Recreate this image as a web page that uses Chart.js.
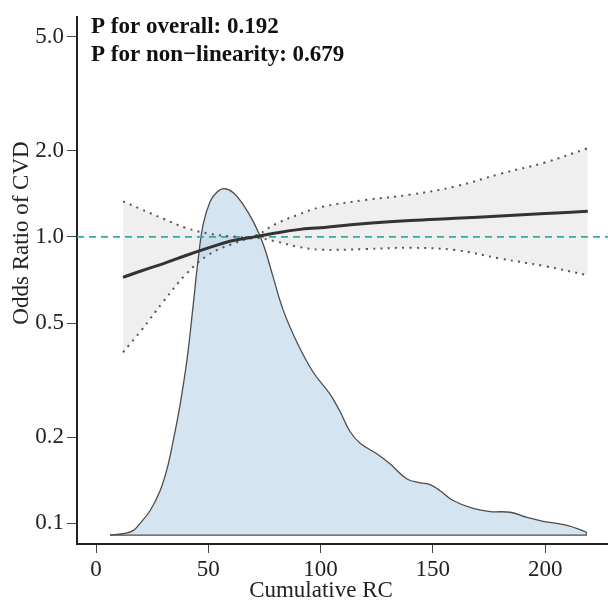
<!DOCTYPE html>
<html>
<head>
<meta charset="utf-8">
<script src="https://cdn.jsdelivr.net/npm/chart.js@4.4.0/dist/chart.umd.min.js"></script>
<style>
  html, body { margin: 0; padding: 0; background: #fff; }
</style>
</head>
<body>
<canvas id="chart" width="608" height="604"></canvas>
<script>
// Axis ranges and ticks
const xMin = -8.5;
const xMax = 228;
const xTicks = [0, 50, 100, 150, 200];
const yTicks = [0.1, 0.2, 0.5, 1.0, 2.0, 5.0];
const yMin = 0.0846;
const yMax = 5.87;

// Restricted cubic spline fit (odds ratio) with 95% CI
const fitX = [12, 20, 30, 40, 50, 60, 70, 80, 90, 100, 120, 140, 160, 180, 200, 219];
const fitOR = [0.722, 0.76, 0.807, 0.861, 0.915, 0.968, 0.998, 1.031, 1.06, 1.077, 1.114, 1.141, 1.161, 1.183, 1.206, 1.229];
const upperOR = [1.331, 1.25, 1.157, 1.075, 1.028, 1.005, 1.005, 1.11, 1.195, 1.27, 1.345, 1.405, 1.5, 1.66, 1.82, 2.04];
const lowerOR = [0.395, 0.47, 0.595, 0.74, 0.865, 0.94, 0.99, 0.964, 0.923, 0.902, 0.907, 0.916, 0.899, 0.84, 0.79, 0.734];

// Distribution of cumulative RC (relative density, peak = 1)
const densX = [6.2, 12.0, 16.5, 19.6, 24.1, 28.5, 31.6, 34.3, 37.4, 40.5, 43.2, 45.4, 47.7, 50.8, 53.9, 57.0, 61.0, 65.5, 69.9, 74.4, 78.8, 83.3, 89.5, 96.7, 104.2, 108.7, 113.1, 117.6, 125.2, 131.0, 138.5, 144.3, 148.8, 153.2, 159.0, 167.9, 175.5, 184.4, 192.0, 199.1, 209.8, 218.3];
const densY = [0, 0.004, 0.013, 0.034, 0.071, 0.128, 0.191, 0.271, 0.376, 0.507, 0.661, 0.792, 0.897, 0.963, 0.99, 1.0, 0.989, 0.954, 0.906, 0.840, 0.746, 0.650, 0.556, 0.470, 0.407, 0.356, 0.299, 0.265, 0.234, 0.205, 0.162, 0.151, 0.146, 0.128, 0.100, 0.077, 0.068, 0.066, 0.051, 0.040, 0.028, 0.009];

const SERIF = '"Liberation Serif", "DejaVu Serif", serif';

const pts = (xs, ys) => xs.map((x, i) => ({ x: x, y: ys[i] }));

// P-value annotation and axis titles
const chartText = {
    id: 'chartText',
    afterDraw(chart) {
        const { ctx, chartArea } = chart;
        ctx.save();
        ctx.fillStyle = '#111';
        ctx.textAlign = 'left';
        ctx.textBaseline = 'alphabetic';
        ctx.font = 'bold 23px ' + SERIF;
        ctx.fillText('P for overall: 0.192', chartArea.left + 14, 33);
        ctx.fillText('P for non\u2212linearity: 0.679', chartArea.left + 14, 61);

        ctx.fillStyle = '#222';
        ctx.font = '23px ' + SERIF;
        ctx.textAlign = 'center';
        ctx.fillText('Cumulative RC', 321, 597);

        ctx.translate(28, 233);
        ctx.rotate(-Math.PI / 2);
        ctx.fillText('Odds Ratio of CVD', 0, 0);
        ctx.restore();
    }
};

new Chart(document.getElementById('chart').getContext('2d'), {
    type: 'line',
    data: {
        datasets: [
            {
                // CI band lower edge (fill anchor)
                data: pts(fitX, lowerOR),
                borderWidth: 0,
                pointRadius: 0,
                fill: false,
                tension: 0.4,
                order: 6
            },
            {
                // CI band
                data: pts(fitX, upperOR),
                borderWidth: 0,
                pointRadius: 0,
                backgroundColor: '#efefef',
                fill: '-1',
                tension: 0.4,
                order: 5
            },
            {
                // density
                data: pts(densX, densY),
                yAxisID: 'yDens',
                borderColor: '#4d4d4d',
                borderWidth: 1.3,
                backgroundColor: 'rgba(160,196,224,0.45)',
                fill: 'origin',
                pointRadius: 0,
                tension: 0.4,
                order: 4
            },
            {
                // density baseline and right edge
                data: [
                    { x: densX[0], y: 0 },
                    { x: densX[densX.length - 1], y: 0 },
                    { x: densX[densX.length - 1], y: densY[densY.length - 1] }
                ],
                yAxisID: 'yDens',
                borderColor: '#4d4d4d',
                borderWidth: 1.3,
                pointRadius: 0,
                fill: false,
                order: 3
            },
            {
                // reference line OR = 1
                data: [{ x: xMin, y: 1 }, { x: xMax, y: 1 }],
                borderColor: '#37a8a6',
                borderWidth: 1.8,
                borderDash: [7, 5],
                pointRadius: 0,
                fill: false,
                order: 2
            },
            {
                data: pts(fitX, lowerOR),
                borderColor: '#555',
                borderWidth: 2,
                borderDash: [2, 5.3],
                pointRadius: 0,
                fill: false,
                tension: 0.4,
                order: 1
            },
            {
                data: pts(fitX, upperOR),
                borderColor: '#555',
                borderWidth: 2,
                borderDash: [2, 5.3],
                pointRadius: 0,
                fill: false,
                tension: 0.4,
                order: 1
            },
            {
                data: pts(fitX, fitOR),
                borderColor: '#333',
                borderWidth: 3,
                pointRadius: 0,
                fill: false,
                tension: 0.4,
                order: 0
            }
        ]
    },
    options: {
        responsive: false,
        animation: false,
        layout: { padding: { top: 10, right: 0, bottom: 0, left: 0 } },
        plugins: {
            legend: { display: false },
            tooltip: { enabled: false }
        },
        scales: {
            x: {
                type: 'linear',
                min: xMin,
                max: xMax,
                afterBuildTicks: (scale) => { scale.ticks = xTicks.map(v => ({ value: v })); },
                afterFit: (scale) => { scale.height = 60; },
                border: { display: true, color: '#222', width: 2 },
                grid: { display: true, drawOnChartArea: false, drawTicks: true, tickLength: 9, color: '#444' },
                ticks: {
                    color: '#222',
                    padding: 3,
                    maxRotation: 0,
                    font: { family: SERIF, size: 23 },
                    callback: (v) => String(v)
                }
            },
            y: {
                type: 'logarithmic',
                min: yMin,
                max: yMax,
                afterBuildTicks: (scale) => { scale.ticks = yTicks.map(v => ({ value: v })); },
                afterFit: (scale) => { scale.width = 77; },
                border: { display: true, color: '#222', width: 2 },
                grid: { display: true, drawOnChartArea: false, drawTicks: true, tickLength: 10, color: '#444' },
                ticks: {
                    color: '#222',
                    padding: 3,
                    font: { family: SERIF, size: 23 },
                    callback: (v) => Number(v).toFixed(1)
                }
            },
            yDens: {
                type: 'linear',
                display: false,
                min: -0.0256,
                max: 1.4957
            }
        }
    },
    plugins: [chartText]
});
</script>
</body>
</html>
